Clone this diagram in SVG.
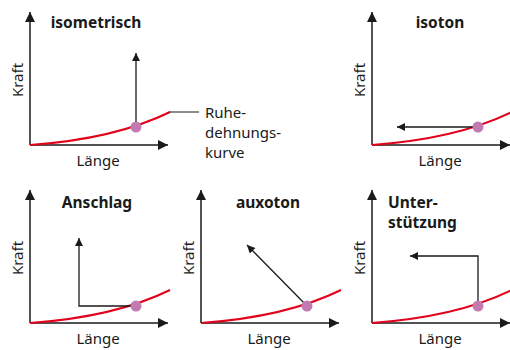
<svg xmlns="http://www.w3.org/2000/svg" width="510" height="350" viewBox="0 0 510 350">
<style>
.ax{stroke:#1a1a1a;stroke-width:1.5;fill:none}
.ar{stroke:#1a1a1a;stroke-width:1.3;fill:none}
.cv{stroke:#e2001a;stroke-width:2;fill:none}
.dot{fill:#c27bb2}
.t{font-family:"Noto Sans","Open Sans",sans-serif;font-size:15.5px;font-weight:bold;fill:#1a1a1a}
.l{font-family:"Noto Sans","Open Sans",sans-serif;font-size:15px;fill:#1a1a1a}
</style>
<defs>
<marker id="ah" viewBox="0 0 10 10" refX="10" refY="5" markerWidth="11" markerHeight="10" markerUnits="userSpaceOnUse" orient="auto"><path d="M0,0L10,5L0,10z" fill="#1a1a1a"/></marker>
<marker id="sh" viewBox="0 0 10 10" refX="10" refY="5" markerWidth="9" markerHeight="8" markerUnits="userSpaceOnUse" orient="auto"><path d="M0,0L10,5L0,10z" fill="#1a1a1a"/></marker>
<g id="base">
<path class="ax" d="M0,0V-133" marker-end="url(#ah)"/>
<path class="ax" d="M0,0H138" marker-end="url(#ah)"/>
<path class="cv" d="M0,0Q85,-6 140,-33"/>
<text class="l" x="68" y="21" text-anchor="middle">Länge</text>
<text class="l" transform="translate(-7,-65) rotate(-90)" text-anchor="middle">Kraft</text>
</g>
</defs>
<g id="isometrisch" transform="translate(30,145)">
<use href="#base"/>
<text class="t" x="66" y="-117" text-anchor="middle">isometrisch</text>
<g id="connectors1"><path class="ar" d="M106,-18V-92" marker-end="url(#sh)"/></g>
<circle class="dot" cx="106" cy="-18" r="5.5"/>
<path d="M139,-33H169" stroke="#1a1a1a" stroke-width="1"/>
<text class="l" x="175" y="-27">Ruhe-</text>
<text class="l" x="175" y="-7">dehnungs-</text>
<text class="l" x="175" y="13">kurve</text>
</g>
<g id="isoton" transform="translate(372,145)">
<use href="#base"/>
<text class="t" x="68" y="-117" text-anchor="middle">isoton</text>
<g id="connectors2"><path class="ar" d="M106,-18H25" marker-end="url(#sh)"/></g>
<circle class="dot" cx="106" cy="-18" r="5.5"/>
</g>
<g id="anschlag" transform="translate(30,323)">
<use href="#base"/>
<text class="t" x="67" y="-115" text-anchor="middle">Anschlag</text>
<g id="connectors3"><path class="ar" d="M106,-17H49V-85" marker-end="url(#sh)"/></g>
<circle class="dot" cx="106" cy="-17" r="5.5"/>
</g>
<g id="auxoton" transform="translate(201,323)">
<use href="#base"/>
<text class="t" x="67" y="-115" text-anchor="middle">auxoton</text>
<g id="connectors4"><path class="ar" d="M106,-17L46,-78" marker-end="url(#sh)"/></g>
<circle class="dot" cx="106" cy="-17" r="5.5"/>
</g>
<g id="unterstuetzung" transform="translate(372,323)">
<use href="#base"/>
<text class="t" x="16" y="-115">Unter-</text>
<text class="t" x="16" y="-95">stützung</text>
<g id="connectors5"><path class="ar" d="M106,-17V-67H38" marker-end="url(#sh)"/></g>
<circle class="dot" cx="106" cy="-17" r="5.5"/>
</g>
</svg>
